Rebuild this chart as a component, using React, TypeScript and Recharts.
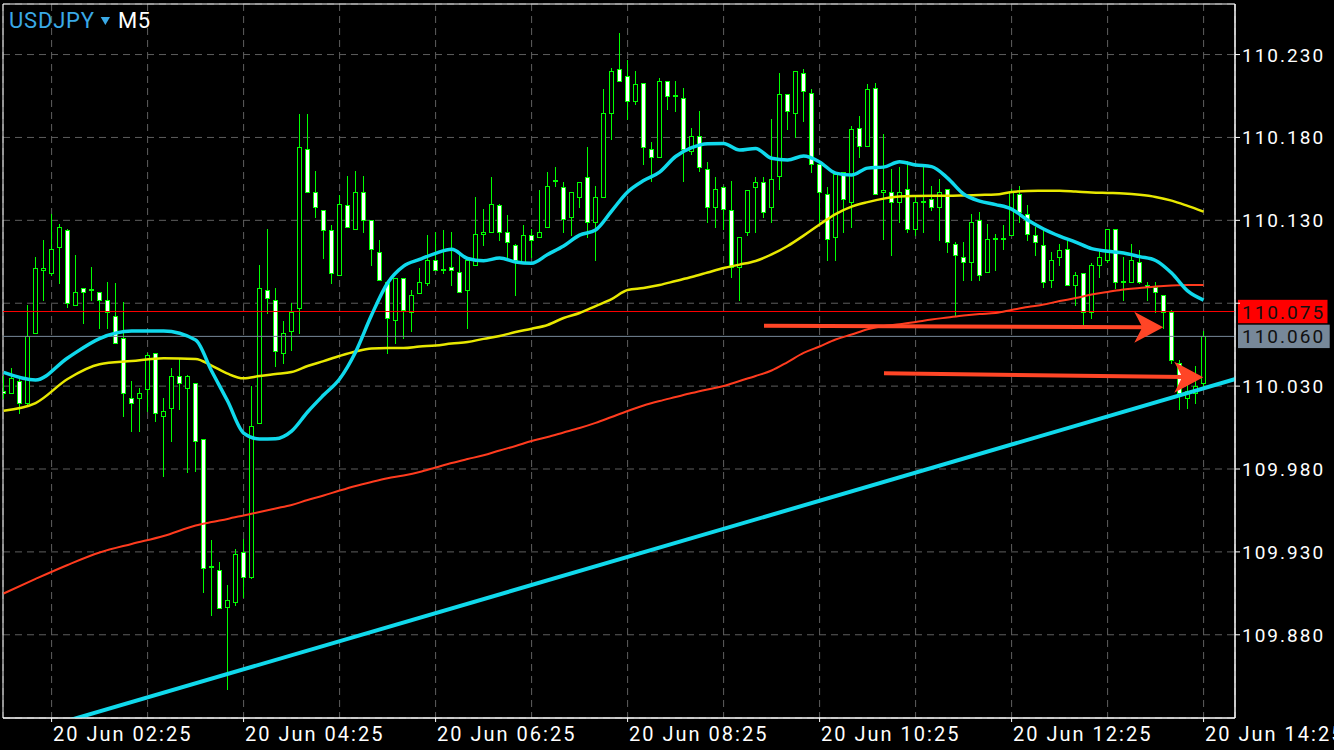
import React from "react";
import {
  Bar,
  CartesianGrid,
  ComposedChart,
  Line,
  ReferenceArea,
  ReferenceLine,
  XAxis,
  YAxis,
} from "recharts";

const W = 1334;
const H = 750;

// USDJPY M5, 20 Jun 01:55 .. 14:25 (index 0 = 01:55)
const opens = [
  110.027, 110.026, 110.033, 110.02, 110.062, 110.1, 110.098, 110.114, 110.124, 110.079,
  110.089, 110.088, 110.087, 110.082, 110.072, 110.059, 110.023, 110.023, 110.028, 110.05,
  110.012, 110.017, 110.036, 110.029, 110.032, 109.998, 109.921, 109.919, 109.897, 109.9,
  109.93, 109.915, 110.008, 110.088, 110.082, 110.05, 110.063, 110.077, 110.173, 110.147,
  110.136, 110.124, 110.097, 110.139, 110.125, 110.147, 110.13, 110.111, 110.093, 110.07,
  110.095, 110.075, 110.086, 110.092, 110.106, 110.1, 110.102, 110.099, 110.088, 110.103,
  110.122, 110.123, 110.139, 110.123, 110.115, 110.104, 110.121, 110.12, 110.126, 110.154,
  110.15, 110.132, 110.144, 110.156, 110.129, 110.144, 110.195, 110.221, 110.217, 110.202,
  110.213, 110.173, 110.168, 110.214, 110.205, 110.204, 110.172, 110.181, 110.161, 110.138,
  110.15, 110.136, 110.102, 110.123, 110.15, 110.153, 110.138, 110.157, 110.206, 110.195,
  110.219, 110.207, 110.164, 110.146, 110.12, 110.159, 110.141, 110.186, 110.175, 110.21,
  110.147, 110.147, 110.141, 110.149, 110.125, 110.141, 110.143, 110.138, 110.149, 110.116,
  110.108, 110.105, 110.13, 110.099, 110.119, 110.119, 110.121, 110.146, 110.134, 110.121,
  110.115, 110.094, 110.108, 110.113, 110.091, 110.098, 110.075, 110.103, 110.106, 110.125,
  110.093, 110.093, 110.105, 110.091, 110.09, 110.085, 110.075, 110.044, 110.023, 110.026,
  110.032,
];
const highs = [
  110.036, 110.041, 110.034, 110.079, 110.108, 110.118, 110.134, 110.128, 110.125, 110.109,
  110.089, 110.102, 110.087, 110.093, 110.092, 110.081, 110.033, 110.029, 110.05, 110.05,
  110.023, 110.041, 110.047, 110.037, 110.032, 109.998, 109.937, 109.924, 109.91, 109.932,
  109.938, 110.03, 110.103, 110.125, 110.089, 110.069, 110.08, 110.194, 110.194, 110.16,
  110.136, 110.127, 110.145, 110.157, 110.16, 110.157, 110.13, 110.118, 110.093, 110.095,
  110.095, 110.088, 110.101, 110.121, 110.123, 110.124, 110.123, 110.11, 110.106, 110.144,
  110.137, 110.156, 110.14, 110.133, 110.116, 110.127, 110.125, 110.148, 110.159, 110.162,
  110.153, 110.147, 110.153, 110.174, 110.151, 110.209, 110.222, 110.243, 110.227, 110.22,
  110.213, 110.177, 110.216, 110.214, 110.214, 110.21, 110.186, 110.196, 110.165, 110.156,
  110.151, 110.154, 110.12, 110.148, 110.156, 110.156, 110.191, 110.219, 110.206, 110.22,
  110.221, 110.209, 110.164, 110.15, 110.158, 110.159, 110.187, 110.193, 110.212, 110.213,
  110.182, 110.161, 110.162, 110.166, 110.145, 110.163, 110.151, 110.155, 110.149, 110.117,
  110.117, 110.134, 110.135, 110.128, 110.122, 110.127, 110.149, 110.151, 110.139, 110.126,
  110.124, 110.111, 110.116, 110.119, 110.099, 110.098, 110.104, 110.113, 110.125, 110.125,
  110.108, 110.116, 110.112, 110.093, 110.093, 110.085, 110.076, 110.046, 110.032, 110.042,
  110.063,
];
const lows = [
  110.023, 110.026, 110.014, 110.019, 110.062, 110.082, 110.097, 110.092, 110.078, 110.079,
  110.068, 110.082, 110.065, 110.065, 110.056, 110.012, 110.003, 110.003, 110.015, 110.009,
  109.976, 109.997, 110.016, 109.978, 109.979, 109.906, 109.892, 109.896, 109.847, 109.898,
  109.903, 109.914, 110.008, 110.074, 110.042, 110.044, 110.052, 110.062, 110.147, 110.132,
  110.107, 110.092, 110.097, 110.126, 110.125, 110.123, 110.103, 110.094, 110.05, 110.056,
  110.059, 110.063, 110.086, 110.091, 110.1, 110.098, 110.091, 110.087, 110.065, 110.103,
  110.115, 110.123, 110.118, 110.107, 110.085, 110.104, 110.108, 110.12, 110.126, 110.151,
  110.123, 110.121, 110.138, 110.12, 110.106, 110.144, 110.179, 110.214, 110.191, 110.2,
  110.164, 110.154, 110.168, 110.197, 110.196, 110.154, 110.17, 110.16, 110.129, 110.126,
  110.125, 110.096, 110.082, 110.121, 110.123, 110.132, 110.129, 110.149, 110.185, 110.18,
  110.19, 110.159, 110.128, 110.106, 110.106, 110.123, 110.126, 110.168, 110.175, 110.146,
  110.119, 110.109, 110.129, 110.123, 110.121, 110.123, 110.136, 110.118, 110.111, 110.073,
  110.094, 110.094, 110.094, 110.099, 110.1, 110.113, 110.121, 110.129, 110.118, 110.109,
  110.09, 110.09, 110.103, 110.091, 110.079, 110.067, 110.071, 110.096, 110.105, 110.089,
  110.082, 110.093, 110.092, 110.082, 110.075, 110.065, 110.044, 110.016, 110.017, 110.02,
  110.028,
];
const closes = [
  110.026, 110.035, 110.02, 110.06, 110.101, 110.101, 110.113, 110.126, 110.08, 110.087,
  110.087, 110.088, 110.082, 110.075, 110.056, 110.026, 110.02, 110.026, 110.049, 110.014,
  110.015, 110.036, 110.032, 110.036, 109.997, 109.92, 109.92, 109.896, 109.901, 109.929,
  109.915, 110.006, 110.089, 110.083, 110.051, 110.062, 110.075, 110.174, 110.147, 110.138,
  110.124, 110.098, 110.14, 110.126, 110.147, 110.13, 110.113, 110.094, 110.071, 110.095,
  110.076, 110.085, 110.093, 110.106, 110.1, 110.1, 110.1, 110.087, 110.106, 110.122,
  110.123, 110.14, 110.123, 110.117, 110.106, 110.121, 110.118, 110.123, 110.151, 110.153,
  110.131, 110.147, 110.153, 110.129, 110.144, 110.195, 110.22, 110.214, 110.202, 110.212,
  110.174, 110.168, 110.214, 110.205, 110.205, 110.173, 110.181, 110.162, 110.138, 110.149,
  110.137, 110.102, 110.12, 110.148, 110.153, 110.135, 110.155, 110.206, 110.196, 110.22,
  110.208, 110.164, 110.147, 110.119, 110.158, 110.143, 110.185, 110.175, 110.209, 110.146,
  110.148, 110.141, 110.147, 110.125, 110.141, 110.141, 110.138, 110.147, 110.117, 110.109,
  110.105, 110.129, 110.097, 110.119, 110.118, 110.118, 110.147, 110.135, 110.122, 110.117,
  110.093, 110.106, 110.112, 110.091, 110.097, 110.075, 110.103, 110.108, 110.125, 110.093,
  110.093, 110.106, 110.093, 110.09, 110.087, 110.075, 110.046, 110.026, 110.027, 110.03,
  110.06,
];

// moving averages, read at these candle indexes
const maIdx = [
  0, 4, 8, 12, 16, 20, 24, 26, 28, 30, 32, 34, 36, 38, 40, 42, 44, 46, 48, 50,
  52, 54, 56, 58, 60, 62, 64, 66, 68, 70, 72, 74, 76, 78, 80, 82, 84, 86, 88, 90,
  92, 94, 96, 98, 100, 102, 104, 106, 108, 110, 112, 114, 116, 118, 120, 122, 124, 126, 128, 130,
  132, 134, 136, 138, 140, 142, 144, 146, 148, 150,
];
const fastMa = [
  110.0383, 110.0337, 110.047, 110.0587, 110.0632, 110.0632, 110.0578, 110.0391, 110.021, 110.0017,
  109.9981, 109.9983, 110.0029, 110.0144, 110.0246, 110.0343, 110.0506, 110.0729, 110.0922, 110.1024,
  110.1064, 110.1101, 110.1125, 110.107, 110.1056, 110.1073, 110.1049, 110.1041, 110.1094, 110.1145,
  110.1211, 110.1242, 110.1356, 110.1471, 110.154, 110.1591, 110.1685, 110.1738, 110.1762, 110.1764,
  110.1724, 110.1734, 110.1674, 110.1664, 110.1688, 110.1652, 110.1585, 110.1573, 110.1615, 110.1621,
  110.1653, 110.1634, 110.1624, 110.1555, 110.1459, 110.1416, 110.1395, 110.1368, 110.1302, 110.1248,
  110.1205, 110.1169, 110.1129, 110.1114, 110.1103, 110.1081, 110.1058, 110.0982, 110.0874, 110.0819,
];
const midMa = [
  110.0152, 110.0198, 110.0343, 110.0432, 110.0451, 110.0468, 110.0464, 110.0424, 110.0375, 110.0347,
  110.0361, 110.0373, 110.0385, 110.0421, 110.0451, 110.0482, 110.0509, 110.0527, 110.053, 110.053,
  110.0539, 110.0545, 110.0557, 110.0566, 110.0585, 110.0602, 110.0626, 110.0646, 110.0669, 110.0711,
  110.0741, 110.0783, 110.0825, 110.088, 110.0892, 110.091, 110.0934, 110.0958, 110.0985, 110.1012,
  110.1033, 110.1055, 110.1094, 110.1145, 110.1208, 110.1275, 110.1338, 110.1383, 110.141, 110.1431,
  110.1444, 110.1447, 110.1448, 110.1448, 110.145, 110.1453, 110.1456, 110.1471, 110.1477, 110.1478,
  110.1479, 110.1474, 110.1468, 110.1465, 110.1462, 110.1454, 110.1441, 110.1419, 110.1387, 110.1352,
];
const slowMa = [
  109.9049, 109.9137, 109.9221, 109.9296, 109.9348, 109.9396, 109.9459, 109.948, 109.9499, 109.952,
  109.9541, 109.9562, 109.9583, 109.9613, 109.964, 109.967, 109.9698, 109.9722, 109.9744, 109.9761,
  109.9782, 109.9809, 109.9836, 109.986, 109.9883, 109.9912, 109.9939, 109.9969, 109.9993, 110.002,
  110.0047, 110.0078, 110.0114, 110.015, 110.0183, 110.021, 110.0234, 110.0258, 110.028, 110.0301,
  110.0331, 110.0361, 110.0394, 110.0445, 110.05, 110.0539, 110.0581, 110.0611, 110.0643, 110.0663,
  110.0673, 110.0687, 110.0702, 110.0714, 110.0726, 110.0735, 110.0741, 110.0759, 110.0777, 110.0792,
  110.0813, 110.0831, 110.0853, 110.0868, 110.0883, 110.0892, 110.0901, 110.0907, 110.091, 110.091,
];

const gridIdx = [6, 18, 30, 42, 54, 66, 78, 90, 102, 114, 126, 138, 150];
const labelIdx = [6, 30, 54, 78, 102, 126, 150];
const timeLabels = [
  "20 Jun 02:25",
  "20 Jun 04:25",
  "20 Jun 06:25",
  "20 Jun 08:25",
  "20 Jun 10:25",
  "20 Jun 12:25",
  "20 Jun 14:25",
];
const priceTicks = [109.88, 109.93, 109.98, 110.03, 110.08, 110.13, 110.18, 110.23];
const askPrice = 110.075;
const bidPrice = 110.06;

// drawn objects (candle index, price)
const trendLine = [
  { i: 5, p: 109.8239 },
  { i: 156, p: 110.0371 },
];
const arrows = [
  [
    { i: 95.05, p: 110.0664 },
    { i: 144.96, p: 110.0655 },
  ],
  [
    { i: 110.05, p: 110.0377 },
    { i: 149.96, p: 110.0353 },
  ],
];

const X_DOMAIN: [number, number] = [-0.075, 153.925];
const Y_DOMAIN: [number, number] = [109.8298, 110.2605];

const GREEN = "#00ff00";
const CYAN = "#10d9ec";
const ARROW = "#ff4526";
const FONT = "Roboto, sans-serif";

const rows = opens.map((o, i) => {
  const n = maIdx.indexOf(i);
  return {
    i,
    o,
    h: highs[i],
    l: lows[i],
    c: closes[i],
    range: [lows[i], highs[i]],
    fast: n >= 0 ? fastMa[n] : null,
    mid: n >= 0 ? midMa[n] : null,
    slow: n >= 0 ? slowMa[n] : null,
  };
});

// wick + body, snapped to whole pixels
function Candle(props: any) {
  const { x, y, width, height, payload } = props;
  if (!payload || !isFinite(x) || !isFinite(y)) return null;
  const top = Math.min(y, y + height);
  const span = Math.abs(height);
  const { o, h, l, c } = payload;
  const k = h > l ? span / (h - l) : 0;
  const py = (v: number) => top + (h - v) * k;
  const col = Math.floor(x + width / 2);
  const yHi = Math.round(top);
  const yLo = Math.round(top + span);
  const bTop = Math.round(py(Math.max(o, c)));
  const bBot = Math.round(py(Math.min(o, c)));
  const bodyH = bBot - bTop + 1;
  return (
    <g shapeRendering="crispEdges">
      <rect x={col} y={yHi} width={1} height={Math.max(1, yLo - yHi + 1)} fill={GREEN} />
      {bodyH <= 2 ? (
        <rect x={col - 2} y={bTop - 1} width={5} height={2} fill={GREEN} />
      ) : (
        <g>
          <rect x={col - 2} y={bTop} width={5} height={bodyH} fill={GREEN} />
          <rect x={col - 1} y={bTop + 1} width={3} height={bodyH - 2} fill={c > o ? "#000" : "#fff"} />
        </g>
      )}
    </g>
  );
}

function TimeTick(props: any) {
  const { x, y, payload } = props;
  const n = labelIdx.indexOf(payload.value);
  if (n < 0) return null;
  return (
    <g>
      <line x1={x} x2={x} y1={y} y2={y + 4} stroke="#fff" />
      <text x={x + 1.5} y={y + 22.5} fill="#fff" fontSize={20} fontFamily={FONT} letterSpacing={2}>
        {timeLabels[n]}
      </text>
    </g>
  );
}

function PriceTick(props: any) {
  const { x, y, payload } = props;
  if (Math.abs(payload.value - 110.08) < 1e-6) return null; // hidden behind the ask tag
  return (
    <text x={x} y={y + 7} fill="#fff" fontSize={19} fontFamily={FONT} letterSpacing={2}>
      {payload.value.toFixed(3)}
    </text>
  );
}

function PriceTag(props: any) {
  const { viewBox, text, bg, w } = props;
  if (!viewBox) return null;
  const right = viewBox.x + viewBox.width;
  const cy = viewBox.y;
  return (
    <g>
      <rect x={right + 3} y={cy - 11.7} width={w} height={23.4} fill={bg} />
      <text x={right + 7} y={cy + 7} fill="#111" fontSize={19} fontFamily={FONT} letterSpacing={2}>
        {text}
      </text>
    </g>
  );
}

function ArrowShape(props: any) {
  const { x1, y1, x2, y2 } = props;
  if (![x1, y1, x2, y2].every(isFinite)) return null;
  const slope = (y2 - y1) / (x2 - x1);
  const notch = x2 - 21;
  const back = x2 - 29;
  const yn = y2 - slope * 21;
  return (
    <g>
      <line x1={x1} y1={y1} x2={notch + 2} y2={yn} stroke={ARROW} strokeWidth={4} />
      <polygon
        points={`${x2},${y2} ${back},${y2 - 15.5} ${notch},${yn} ${back},${y2 + 15.5}`}
        fill={ARROW}
      />
    </g>
  );
}

export default function App() {
  return (
    <div
      style={{
        position: "absolute",
        left: 0,
        top: 0,
        width: W,
        height: H,
        background: "#000",
        overflow: "hidden",
      }}
    >
      <ComposedChart width={W} height={H} data={rows} margin={{ top: 4, right: 0, bottom: 0, left: 3 }}>
        <CartesianGrid stroke="#5e5e5e" strokeDasharray="7 5" />
        <XAxis
          dataKey="i"
          type="number"
          domain={X_DOMAIN}
          allowDataOverflow
          ticks={gridIdx}
          interval={0}
          height={32}
          tickSize={0}
          tickMargin={0}
          tickLine={false}
          axisLine={{ stroke: "#fff" }}
          tick={(p: any) => <TimeTick {...p} />}
        />
        <YAxis
          orientation="right"
          type="number"
          domain={Y_DOMAIN}
          allowDataOverflow
          ticks={priceTicks}
          interval={0}
          width={99}
          tickSize={5}
          tickMargin={2}
          tickLine={{ stroke: "#fff" }}
          axisLine={{ stroke: "#fff" }}
          tick={(p: any) => <PriceTick {...p} />}
        />
        <ReferenceArea
          x1={X_DOMAIN[0]}
          x2={X_DOMAIN[1]}
          y1={Y_DOMAIN[0]}
          y2={Y_DOMAIN[1]}
          fill="none"
          fillOpacity={0}
          stroke="#fff"
          strokeWidth={1}
          ifOverflow="visible"
        />
        <ReferenceLine y={askPrice} stroke="#ff0000" strokeWidth={1} />
        <ReferenceLine y={bidPrice} stroke="#778899" strokeWidth={1} />
        <Bar dataKey="range" barSize={8} isAnimationActive={false} shape={(p: any) => <Candle {...p} />} />
        <Line dataKey="slow" stroke="#ff3b1e" strokeWidth={2} dot={false} connectNulls type="monotone" isAnimationActive={false} />
        <Line dataKey="mid" stroke="#e8e800" strokeWidth={2.5} dot={false} connectNulls type="monotone" isAnimationActive={false} />
        <Line dataKey="fast" stroke={CYAN} strokeWidth={3.5} dot={false} connectNulls type="monotone" isAnimationActive={false} />
        <ReferenceLine
          segment={[
            { x: trendLine[0].i, y: trendLine[0].p },
            { x: trendLine[1].i, y: trendLine[1].p },
          ]}
          stroke={CYAN}
          strokeWidth={4}
          ifOverflow="hidden"
        />
        {arrows.map((a, n) => (
          <ReferenceLine
            key={n}
            segment={[
              { x: a[0].i, y: a[0].p },
              { x: a[1].i, y: a[1].p },
            ]}
            stroke={ARROW}
            ifOverflow="visible"
            shape={(p: any) => <ArrowShape {...p} />}
          />
        ))}
        <ReferenceLine
          y={askPrice}
          stroke="none"
          label={(p: any) => <PriceTag viewBox={p.viewBox} text={askPrice.toFixed(3)} bg="#ff0000" w={89.5} />}
        />
        <ReferenceLine
          y={bidPrice}
          stroke="none"
          label={(p: any) => <PriceTag viewBox={p.viewBox} text={bidPrice.toFixed(3)} bg="#778899" w={91.7} />}
        />
      </ComposedChart>
      <svg style={{ position: "absolute", left: 0, top: 0 }} width={200} height={40}>
        <text x={9} y={28.3} fill="#3aa9e6" fontSize={22} fontFamily={FONT} letterSpacing={0.8}>
          USDJPY
        </text>
        <polygon points="100.7,17 110,17 105.35,25" fill="#3aa9e6" />
        <text x={118} y={28.3} fill="#fff" fontSize={22} fontFamily={FONT} letterSpacing={0.5}>
          M5
        </text>
      </svg>
    </div>
  );
}
